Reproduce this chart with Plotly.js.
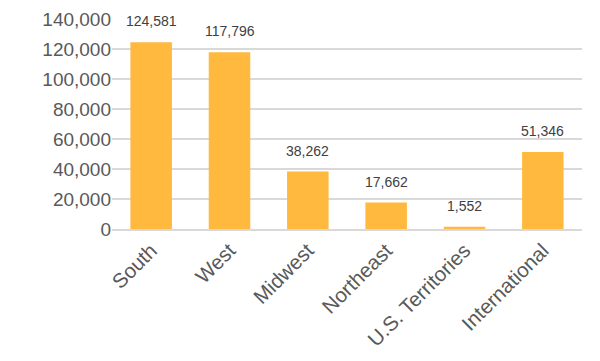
<!DOCTYPE html>
<html><head><meta charset="utf-8">
<script src="https://cdn.plot.ly/plotly-3.0.1.min.js"></script>
<style>body{margin:0;background:#fff}#chart{width:600px;height:361px}</style>
</head><body><div id="chart"></div>
<script>
const categories = ["South", "West", "Midwest", "Northeast", "U.S. Territories", "International"];
const values = [124581, 117796, 38262, 17662, 1552, 51346];
const yTicks = [0, 20000, 40000, 60000, 80000, 100000, 120000, 140000];

const trace = {
  type: "bar", x: categories, y: values,
  marker: {color: "#FFB93F"},
  hoverinfo: "skip"
};
const annotations = categories.map((c, i) => ({
  x: c, y: values[i], xref: "x", yref: "y",
  text: values[i].toLocaleString("en-US"),
  showarrow: false, yanchor: "middle", yshift: 21,
  font: {family: "Liberation Sans, Arial, sans-serif", size: 14, color: "#404040"}
}));
const layout = {
  width: 600, height: 361,
  margin: {l: 112, r: 18, t: 19, b: 132},
  paper_bgcolor: "#fff", plot_bgcolor: "#fff",
  bargap: 0.47,
  showlegend: false,
  xaxis: {
    tickangle: -45, showgrid: false, showline: true, linecolor: "#d9d9d9", linewidth: 1.5,
    ticks: "", tickfont: {family: "Liberation Sans, Arial, sans-serif", size: 20.5, color: "#595959"}
  },
  yaxis: {
    range: [0, 140000], tickvals: yTicks, ticktext: yTicks.map(v => v.toLocaleString("en-US")),
    showgrid: true, gridcolor: "#d9d9d9", gridwidth: 1.5, zeroline: false, showline: false,
    ticks: "", ticklen: 0, tickfont: {family: "Liberation Sans, Arial, sans-serif", size: 19, color: "#595959"}
  },
  annotations: annotations
};
Plotly.newPlot("chart", [trace], layout, {staticPlot: true, displayModeBar: false});
</script></body></html>
